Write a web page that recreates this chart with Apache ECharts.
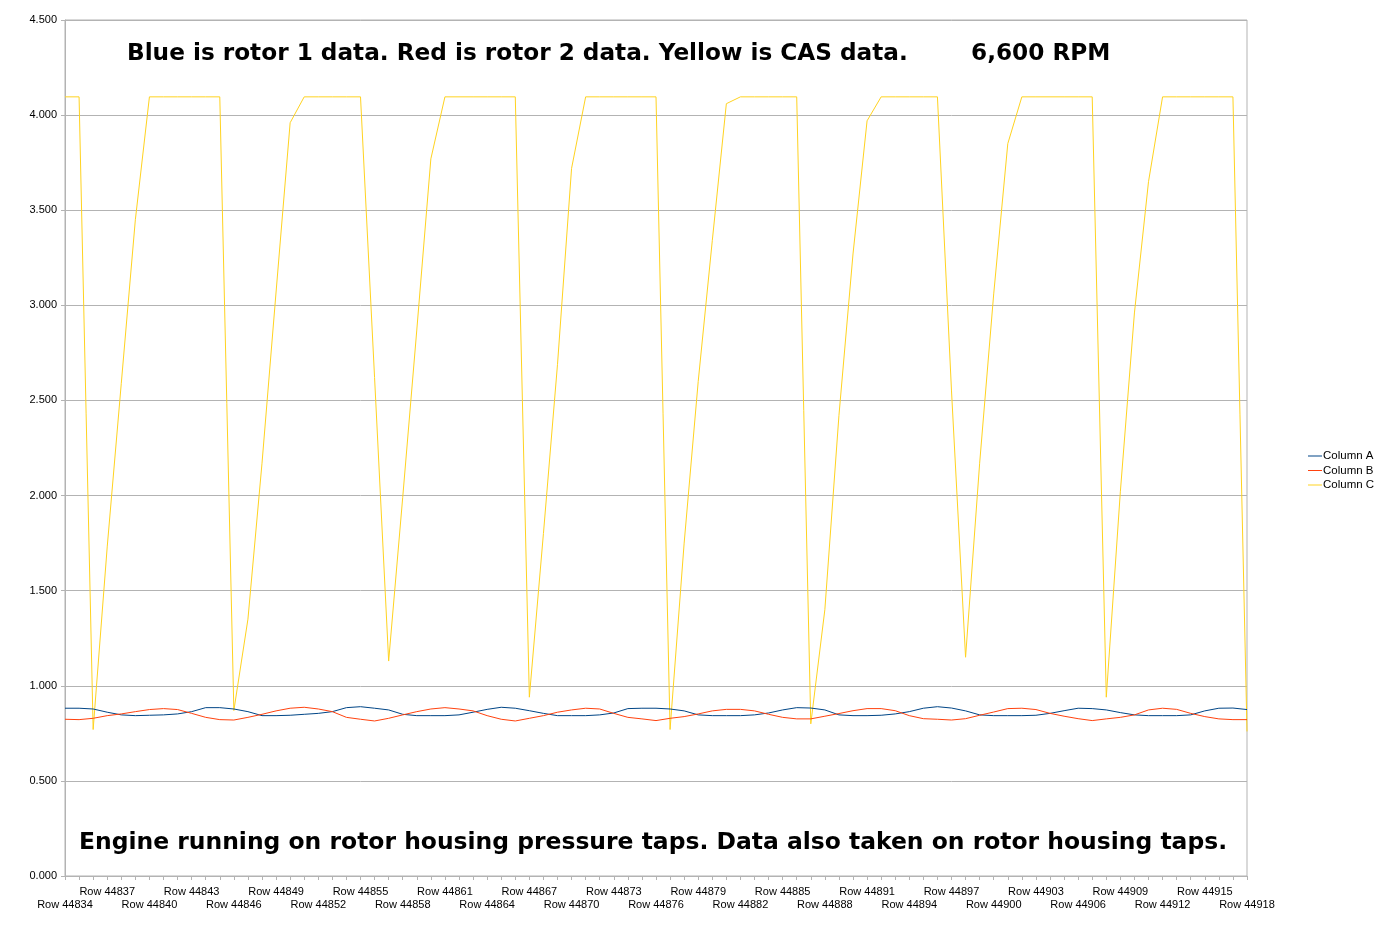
<!DOCTYPE html>
<html>
<head>
<meta charset="utf-8">
<script src="https://cdn.jsdelivr.net/npm/echarts@6/dist/echarts.min.js"></script>
<style>
html,body{margin:0;padding:0;background:#fff;}
#chart{width:1397px;height:937px;}
</style>
</head>
<body>
<div id="chart"></div>
<script>
// ---- data ----
const firstRow = 44834;
const rowCount = 85;
const categories = [];
for (let i = 0; i < rowCount; i++) categories.push('Row ' + (firstRow + i));

const seriesNames = ['Column A', 'Column B', 'Column C'];

const columnA = [
  0.882, 0.882, 0.878, 0.861, 0.847, 0.843, 0.845, 0.847, 0.852, 0.864,
  0.885, 0.885, 0.878, 0.864, 0.843, 0.843, 0.845, 0.850, 0.855, 0.864,
  0.885, 0.890, 0.882, 0.873, 0.850, 0.843, 0.843, 0.843, 0.847, 0.861,
  0.876, 0.887, 0.882, 0.869, 0.855, 0.843, 0.843, 0.843, 0.847, 0.857,
  0.880, 0.882, 0.882, 0.878, 0.868, 0.847, 0.843, 0.843, 0.843, 0.847,
  0.857, 0.873, 0.885, 0.883, 0.873, 0.847, 0.843, 0.843, 0.845, 0.852,
  0.864, 0.882, 0.890, 0.883, 0.868, 0.847, 0.843, 0.843, 0.843, 0.845,
  0.855, 0.869, 0.882, 0.880, 0.873, 0.859, 0.847, 0.843, 0.843, 0.843,
  0.847, 0.868, 0.882, 0.883, 0.875
];

const columnB = [
  0.824, 0.822, 0.829, 0.843, 0.852, 0.864, 0.875, 0.880, 0.875, 0.855,
  0.834, 0.822, 0.820, 0.834, 0.850, 0.868, 0.882, 0.887, 0.878, 0.864,
  0.834, 0.824, 0.815, 0.829, 0.847, 0.864, 0.878, 0.885, 0.878, 0.868,
  0.843, 0.824, 0.815, 0.829, 0.843, 0.861, 0.873, 0.882, 0.878, 0.855,
  0.834, 0.826, 0.817, 0.829, 0.838, 0.852, 0.868, 0.876, 0.876, 0.868,
  0.850, 0.834, 0.826, 0.826, 0.840, 0.854, 0.869, 0.880, 0.880, 0.869,
  0.843, 0.827, 0.824, 0.820, 0.827, 0.845, 0.862, 0.880, 0.882, 0.875,
  0.855, 0.840, 0.827, 0.817, 0.826, 0.834, 0.847, 0.873, 0.882, 0.876,
  0.855, 0.838, 0.826, 0.822, 0.822
];

const columnC = [
  4.096, 4.096, 0.77, 1.73, 2.59, 3.45, 4.096, 4.096, 4.096, 4.096,
  4.096, 4.096, 0.87, 1.35, 2.17, 3.07, 3.96, 4.096, 4.096, 4.096,
  4.096, 4.096, 2.62, 1.13, 1.99, 2.87, 3.77, 4.096, 4.096, 4.096,
  4.096, 4.096, 4.096, 0.94, 1.80, 2.69, 3.72, 4.096, 4.096, 4.096,
  4.096, 4.096, 4.096, 0.77, 1.75, 2.60, 3.34, 4.06, 4.096, 4.096,
  4.096, 4.096, 4.096, 0.80, 1.40, 2.42, 3.27, 3.97, 4.096, 4.096,
  4.096, 4.096, 4.096, 2.55, 1.15, 2.17, 3.06, 3.85, 4.096, 4.096,
  4.096, 4.096, 4.096, 4.096, 0.94, 2.02, 2.96, 3.65, 4.096, 4.096,
  4.096, 4.096, 4.096, 4.096, 0.76
];

const topNote = 'Blue is rotor 1 data. Red is rotor 2 data. Yellow is CAS data.';
const rpmNote = '6,600 RPM';
const bottomNote = 'Engine running on rotor housing pressure taps. Data also taken on rotor housing taps.';

// ---- chart ----
const colors = ['#004586', '#ff420e', '#ffd320'];
const chart = echarts.init(document.getElementById('chart'), null, {renderer: 'canvas'});
const noteStyle = {fontFamily: 'DejaVu Sans', fontWeight: 'bold', fontSize: 23.2, color: '#000'};
const labelFont = {fontFamily: 'Liberation Sans', fontSize: 11, color: '#000'};

chart.setOption({
  animation: false,
  backgroundColor: '#fff',
  color: colors,
  title: [
    {text: topNote, left: 127, top: 42, padding: 0, textStyle: noteStyle},
    {text: rpmNote, left: 971, top: 42, padding: 0, textStyle: noteStyle},
    {text: bottomNote, left: 79, top: 831, padding: 0, textStyle: Object.assign({}, noteStyle, {fontSize: 23.45})}
  ],
  legend: {
    orient: 'vertical',
    left: 1308,
    top: 450,
    padding: 0,
    icon: 'rect',
    itemWidth: 14,
    itemHeight: 1,
    itemGap: 2.5,
    data: seriesNames,
    textStyle: {fontFamily: 'Liberation Sans', fontSize: 11.5, lineHeight: 12, color: '#000', padding: [0,0,0,-4]}
  },
  grid: {
    left: 65, right: 150, top: 20, bottom: 61,
    show: true, borderColor: '#b3b3b3', borderWidth: 1, backgroundColor: '#fff'
  },
  xAxis: [
    {
      type: 'category',
      data: categories,
      boundaryGap: false,
      axisLine: {lineStyle: {color: '#b3b3b3'}},
      axisTick: {show: true, interval: 0, length: 4, lineStyle: {color: '#b3b3b3'}},
      axisLabel: Object.assign({
        interval: function (i) { return i % 6 === 3; },
        margin: 10
      }, labelFont),
      splitLine: {show: false}
    },
    {
      type: 'category',
      position: 'bottom',
      data: categories,
      boundaryGap: false,
      axisLine: {show: false},
      axisTick: {show: false},
      axisLabel: Object.assign({
        interval: function (i) { return i % 6 === 0; },
        showMinLabel: true,
        showMaxLabel: true,
        margin: 23
      }, labelFont),
      splitLine: {show: false}
    }
  ],
  yAxis: {
    type: 'value',
    min: 0, max: 4.5, interval: 0.5,
    axisLine: {show: true, lineStyle: {color: '#b3b3b3'}},
    axisTick: {show: true, length: 4, lineStyle: {color: '#b3b3b3'}},
    axisLabel: Object.assign({
      margin: 8,
      formatter: function (v) { return v.toFixed(3); }
    }, labelFont),
    splitLine: {show: true, lineStyle: {color: '#b3b3b3', width: 1}}
  },
  series: [
    {name: seriesNames[0], type: 'line', xAxisIndex: 0, data: columnA, symbol: 'none', lineStyle: {width: 1}, z: 3},
    {name: seriesNames[1], type: 'line', xAxisIndex: 0, data: columnB, symbol: 'none', lineStyle: {width: 1}, z: 3},
    {name: seriesNames[2], type: 'line', xAxisIndex: 0, data: columnC, symbol: 'none', lineStyle: {width: 1}, z: 2}
  ]
});
</script>
</body>
</html>
